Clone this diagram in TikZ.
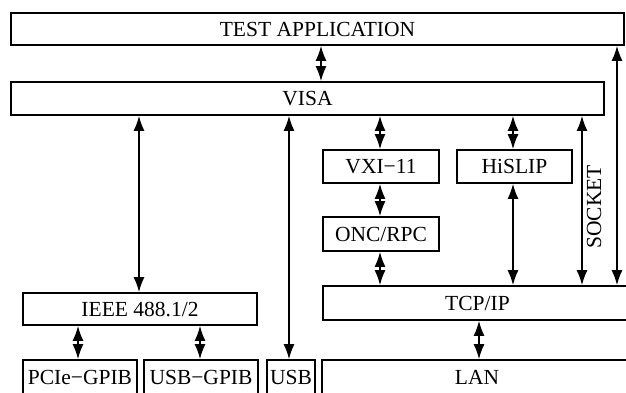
\documentclass[tikz,border=0pt]{standalone}
\usepackage{fontspec}
\setmainfont{Liberation Serif}
\usetikzlibrary{arrows.meta}
\begin{document}
\begin{tikzpicture}[x=1pt,y=-1pt,
  box/.style={draw, line width=1.8pt, inner sep=0pt, font=\fontsize{21.5}{23}\selectfont},
  arr/.style={line width=1.4pt, {Latex[length=15pt,width=11pt]}-{Latex[length=15pt,width=11pt]}}]
\useasboundingbox (0,0) rectangle (626,392);
% boxes
\node[box, minimum width=613, minimum height=32] (ta) at (317.5,29) {TEST APPLICATION};
\node[box, minimum width=593, minimum height=33] (visa) at (307.5,98.5) {VISA};
\node[box, minimum width=234, minimum height=32] (ieee) at (140,309) {IEEE 488.1/2};
\node[box, minimum width=116, minimum height=33] (vxi) at (381,166.5) {VXI−11};
\node[box, minimum width=116, minimum height=34] (onc) at (381,234) {ONC/RPC};
\node[box, minimum width=115, minimum height=33] (hislip) at (514.5,166.5) {HiSLIP};
\node[box, minimum width=309, minimum height=34] (tcp) at (477.5,303) {TCP/IP};
\node[box, minimum width=114, minimum height=34] (pcie) at (80,377) {PCIe−GPIB};
\node[box, minimum width=114, minimum height=34] (usbgpib) at (201,377) {USB−GPIB};
\node[box, minimum width=48, minimum height=34] (usb) at (291,377) {USB};
\node[box, minimum width=310, minimum height=34] (lan) at (477,377) {LAN};
% x positions of connectors
\coordinate (xa) at (321,0);
\coordinate (xb) at (139,0);
\coordinate (xc) at (289,0);
\coordinate (xd) at (380,0);
\coordinate (xe) at (513,0);
\coordinate (xf) at (582,0);
\coordinate (xg) at (617,0);
\coordinate (xh) at (78,0);
\coordinate (xi) at (200,0);
\coordinate (xj) at (479,0);
% connectors
\draw[arr] (ta.south -| xa) -- (visa.north -| xa);
\draw[arr] (visa.south -| xb) -- (ieee.north -| xb);
\draw[arr] (visa.south -| xc) -- (usb.north -| xc);
\draw[arr] (visa.south -| xd) -- (vxi.north -| xd);
\draw[arr] (vxi.south -| xd) -- (onc.north -| xd);
\draw[arr] (onc.south -| xd) -- (tcp.north -| xd);
\draw[arr] (visa.south -| xe) -- (hislip.north -| xe);
\draw[arr] (hislip.south -| xe) -- (tcp.north -| xe);
\draw[arr] (visa.south -| xf) -- (tcp.north -| xf);
\draw[arr] (ta.south -| xg) -- (tcp.north -| xg);
\draw[arr] (ieee.south -| xh) -- (pcie.north -| xh);
\draw[arr] (ieee.south -| xi) -- (usbgpib.north -| xi);
\draw[arr] (tcp.south -| xj) -- (lan.north -| xj);
\node[rotate=90, font=\fontsize{21.5}{23}\selectfont, inner sep=0pt] (socket) at (594,207) {SOCKET};
\end{tikzpicture}
\end{document}
